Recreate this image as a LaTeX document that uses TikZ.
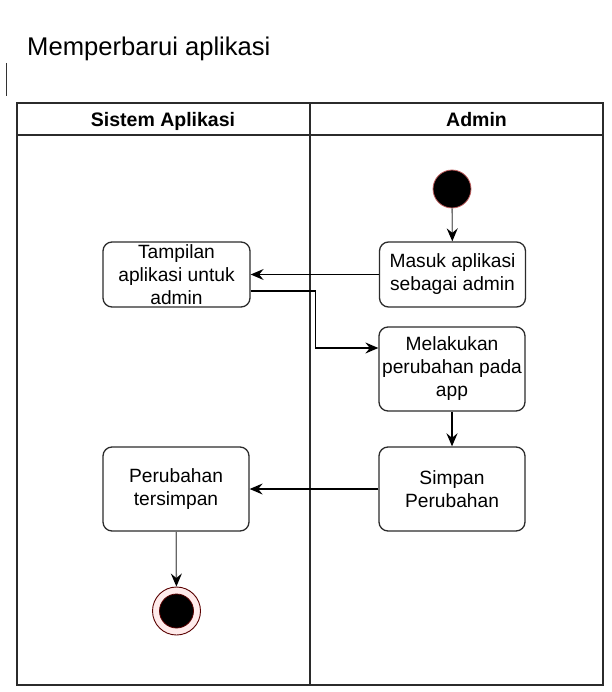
\documentclass[tikz,border=0pt]{standalone}
\usepackage{fontspec}
\setmainfont{Liberation Sans}
\usetikzlibrary{arrows.meta}
\definecolor{boxline}{HTML}{2B2B2B}
\definecolor{startred}{HTML}{C06060}
\begin{document}
\begin{tikzpicture}[x=1pt,y=-1pt,
  act/.style={draw=boxline, line width=1.3pt, rounded corners=9pt, minimum width=146pt, align=center, font=\fontsize{19.2}{23}\selectfont, inner sep=0pt},
  flow/.style={-{Stealth[length=13pt,width=11pt,inset=4.5pt,color=black]}, line width=1.3pt},
  pool/.style={draw=boxline, line width=1.6pt},
  hdr/.style={font=\fontsize{19.5}{23}\selectfont\bfseries, inner sep=0pt, anchor=base},
]
\useasboundingbox (0,0) rectangle (611,692);
% title
\node[anchor=base west, inner sep=0pt, font=\fontsize{25.6}{30}\selectfont] (title) at (27,56) {Memperbarui aplikasi};
\draw[line width=1pt, black!80] (6,63) -- (6,96);
% pool
\draw[pool] (17,103) rectangle (603,685);
\draw[pool] (17,135) -- (603,135);
\draw[pool] (310,103) -- (310,685);
\node[hdr] (h1) at (163,126.5) {Sistem Aplikasi};
\node[hdr] (h2) at (476.5,126.5) {Admin};
% nodes
\node[circle, fill=black, draw=startred, line width=0.8pt, minimum size=38pt, inner sep=0pt] (start) at (452,189) {};
\node[act, minimum height=65pt] (masuk) at (452.5,274.5) {Masuk aplikasi\\sebagai admin};
\node[act, minimum height=65pt, minimum width=147pt] (tamp) at (176.5,274.5) {Tampilan\\aplikasi untuk\\admin};
\node[act, minimum height=84pt] (melak) at (452,369) {Melakukan\\perubahan pada\\app};
\node[act, minimum height=84pt] (simpan) at (452,489) {Simpan\\Perubahan};
\node[act, minimum height=84pt] (tersim) at (176,489) {Perubahan\\tersimpan};
\node[circle, fill=red!8, draw=red!35!black, line width=0.9pt, minimum size=48pt, inner sep=0pt] (end) at (176.5,611) {};
\node[circle, fill=black, draw=red!35!black, line width=0.8pt, minimum size=34pt, inner sep=0pt] (endin) at (176.5,611) {};
% connectors
\draw[flow, draw=black!55] (start) -- (masuk);
\draw[flow] (masuk.west) -- (tamp.east);
\draw[flow] ([yshift=-16.5pt]tamp.east) -- ++(65,0) |- ([yshift=21pt]melak.west);
\draw[flow, line width=2.2pt] (melak) -- (simpan);
\draw[flow] (simpan.west) -- (tersim.east);
\draw[flow, draw=black!60] (tersim) -- (end);
\end{tikzpicture}
\end{document}
